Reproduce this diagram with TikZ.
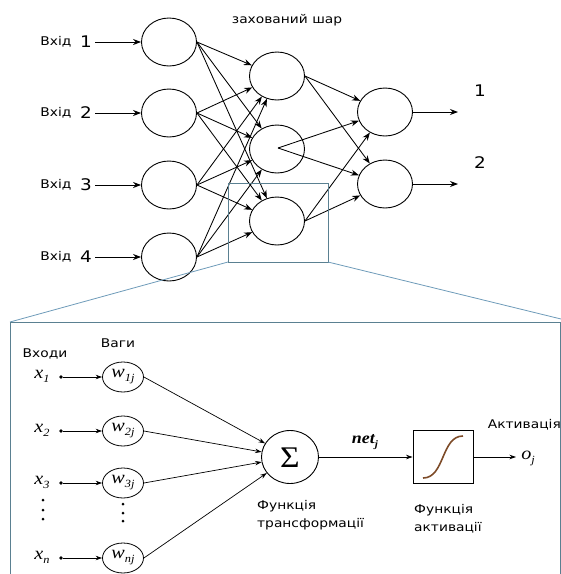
\documentclass[tikz,border=0pt]{standalone}
\usepackage{fontspec}
\newfontfamily\lab[FakeStretch=1.15]{DejaVu Sans}
\newfontfamily\mser[FakeStretch=1.12]{Liberation Serif}
\usetikzlibrary{shapes.geometric,arrows.meta}
\definecolor{frame}{RGB}{90,128,145}
\definecolor{zoomline}{RGB}{110,155,185}
\definecolor{sig}{RGB}{125,75,40}
\newcommand{\varsub}[2]{{\mser\itshape #1\raisebox{-0.22em}{\fontsize{11}{12}\selectfont #2}}}
\tikzset{
  neuron/.style={draw,ellipse,line width=0.9pt,minimum width=55pt,minimum height=48pt,inner sep=0pt},
  wnode/.style={draw,ellipse,line width=0.8pt,minimum width=41pt,minimum height=30pt,inner sep=0pt},
  conn/.style={line width=0.85pt,-{Stealth[length=8pt,width=6pt]}},
  lconn/.style={line width=0.7pt,-{Stealth[length=6.5pt,width=4.5pt]}},
  txt/.style={font=\lab\fontsize{12}{14}\selectfont,inner sep=0pt},
  num/.style={font=\lab\fontsize{16}{18}\selectfont,inner sep=0pt},
  mth/.style={font=\fontsize{18}{20}\selectfont,inner sep=0pt},
  dotn/.style={circle,fill,inner sep=0pt,minimum size=3.6pt}
}
\begin{document}
\begin{tikzpicture}[x=1pt,y=-1pt]
\useasboundingbox (0,0) rectangle (561,574);
% ---------- top network ----------
\foreach \i/\y in {1/42,2/113,3/185,4/257}{
  \node[neuron] (i\i) at (169,\y) {};
  \node[txt] (lv\i) at (56,\y) {Вхід};
  \node[num] (ln\i) at (86,\y) {\i};
  \coordinate (s\i) at (95,\y);
  \draw[conn] (s\i) -- (i\i);
}
\foreach \j/\y in {1/76,2/149,3/221}{
  \node[neuron] (h\j) at (277,\y) {};
}
\node[neuron] (o1) at (385,112) {};
\node[neuron] (o2) at (385,184) {};
\node[txt] (hid) at (287,20) {захований шар};
\foreach \i in {1,...,4}{
  \foreach \j in {1,2,3}{
    \draw[conn] (i\i.east) -- (h\j);
  }
}
\coordinate (h2c) at (278,148);
\foreach \k in {1,2}{
  \draw[conn] (h1.east) -- (o\k);
  \draw[conn] (h2c) -- (o\k);
  \draw[conn] (h3.east) -- (o\k);
}
\coordinate (e1) at (458,112);
\coordinate (e2) at (458,184);
\draw[conn] (o1.east) -- (e1);
\draw[conn] (o2.east) -- (e2);
\node[num] (on1) at (480,91) {1};
\node[num] (on2) at (480,163) {2};
% ---------- magnifier ----------
\coordinate (ma) at (228,183);
\coordinate (mb) at (328,262);
\coordinate (mbl) at (228,262);
\draw[frame,line width=0.9pt] (ma) rectangle (mb);
\coordinate (ftl) at (10,322);
\coordinate (ftr) at (561,319);
\draw[zoomline,line width=0.8pt] (mbl) -- (ftl);
\draw[zoomline,line width=0.8pt] (mb) -- (ftr);
\draw[frame,line width=1pt] (560,580) -- (560,322) -- (10,322) -- (10,580);
% ---------- lower neuron ----------
\node[txt] (inp) at (45,354) {Входи};
\node[txt] (wts) at (118,343) {Ваги};
\foreach \n/\y/\s in {1/377/1,2/431/2,3/483/3,n/558/n}{
  \node[wnode] (w\n) at (123,\y) {};
  \node[mth] at (w\n) {\varsub{w}{\s j}};
  \node[mth] (x\n) at (42,\y-1) {\varsub{x}{\s}};
  \node[dotn] (d\n) at (61,\y) {};
  \draw[lconn] (d\n) -- (w\n);
}
\foreach \yy in {500,510,519}{
  \fill (43,\yy) circle (1.5pt);
}
\foreach \yy in {504,513,521}{
  \fill (123,\yy) circle (1.5pt);
}
\node[draw,ellipse,line width=0.9pt,minimum width=57pt,minimum height=53pt,inner sep=0pt] (S) at (290,457) {};
\node[inner sep=0pt,font=\mser\fontsize{30}{32}\selectfont] at (290,458) {Σ};
\foreach \n in {1,2,3,n}{
  \draw[lconn] (w\n.east) -- (S);
}
\node[draw,line width=0.9pt,minimum width=60pt,minimum height=53pt,inner sep=0pt] (A) at (443,457) {};
\draw[sig,line width=1.6pt] (423,478) .. controls (445,478) and (441,436) .. (463,436);
\draw[lconn] (S.east) -- (A.west);
\node[inner sep=0pt,font=\fontsize{16}{18}\selectfont] (net) at (365,442) {{\mser\bfseries\itshape net\raisebox{-0.22em}{\fontsize{10}{11}\selectfont j}}};
\coordinate (oe) at (516,457);
\draw[lconn] (A.east) -- (oe);
\node[mth] (oj) at (528,458) {\varsub{o}{j}};
\node[txt,anchor=east] (act) at (561,425) {Активація};
\node[txt,anchor=west] (ft1) at (257,506) {Функція};
\node[txt,anchor=west] (ft2) at (257,524) {трансформації};
\node[txt,anchor=west] (fa1) at (414,510) {Функція};
\node[txt,anchor=west] (fa2) at (414,528) {активації};
\end{tikzpicture}
\end{document}
